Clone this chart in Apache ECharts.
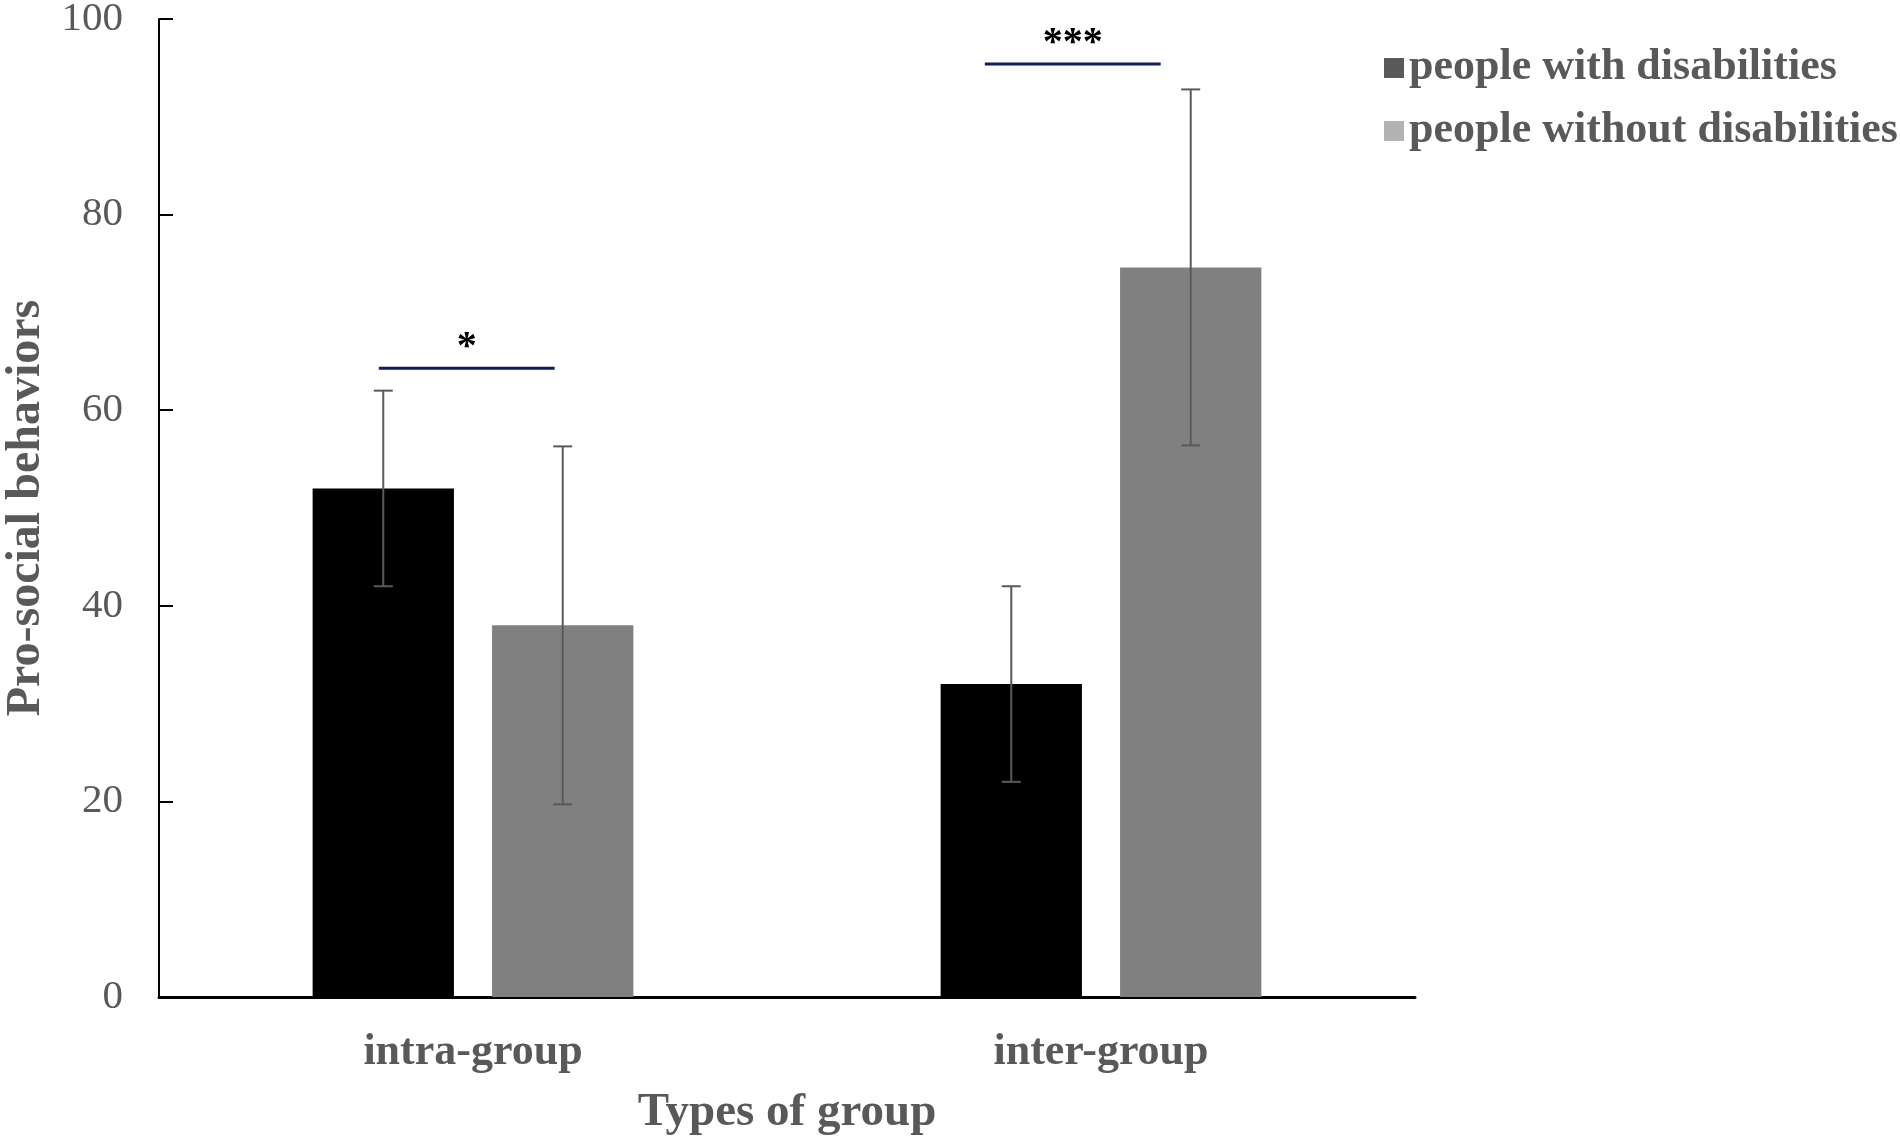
<!DOCTYPE html>
<html>
<head>
<meta charset="utf-8">
<script src="https://cdn.jsdelivr.net/npm/echarts@6/dist/echarts.min.js"></script>
<style>
html,body{margin:0;padding:0;background:#fff;}
#chart{width:1900px;height:1143px;}
</style>
</head>
<body>
<div id="chart"></div>
<script>
// ---- data ----
var categories = ['intra-group', 'inter-group'];
var seriesNames = ['people with disabilities', 'people without disabilities'];
var withMeans = [52, 32];
var withErr = [10, 10];
var withoutMeans = [38, 74.6];
var withoutErr = [18.3, 18.2];
var yTicks = [0, 20, 40, 60, 80, 100];
// significance brackets (x in category units on a 0..2 scale)
var sigStart = [0.35, 1.315];
var sigEnd = [0.63, 1.595];
var sigLevel = [64.3, 95.4];
var sigText = ['*', '***'];

var FONT = '"Liberation Serif", "Times New Roman", serif';
var BAR_W = 0.225, BAR_GAP = 0.27;

function errData(means, errs) {
  return means.map(function (m, i) { return [i, m, errs[i]]; });
}
function makeErrRender(sign) {
  return function (params, api) {
    var cat = api.value(0), mean = api.value(1), err = api.value(2);
    var band = api.size([1, 0])[0];
    var bw = band * BAR_W, gap = bw * BAR_GAP;
    var off = sign * (bw + gap) / 2;
    var top = api.coord([cat, mean + err]);
    var bot = api.coord([cat, mean - err]);
    var x = top[0] + off, hw = 9.5;
    var st = { stroke: '#595959', lineWidth: 2 };
    return {
      type: 'group',
      children: [
        { type: 'line', shape: { x1: x, y1: top[1], x2: x, y2: bot[1] }, style: st },
        { type: 'line', shape: { x1: x - hw, y1: top[1], x2: x + hw, y2: top[1] }, style: st },
        { type: 'line', shape: { x1: x - hw, y1: bot[1], x2: x + hw, y2: bot[1] }, style: st }
      ]
    };
  };
}

var chart = echarts.init(document.getElementById('chart'));
chart.setOption({
  animation: false,
  backgroundColor: '#fff',
  textStyle: { fontFamily: FONT },
  grid: { left: 159, right: 485, top: 19, bottom: 146, containLabel: false, outerBoundsMode: 'none' },
  legend: {
    orient: 'vertical',
    left: 1379,
    top: 41,
    itemWidth: 20,
    itemHeight: 20,
    itemGap: 19,
    icon: 'rect',
    selectedMode: false,
    textStyle: { fontFamily: FONT, fontSize: 44, fontWeight: 'bold', color: '#595959', lineHeight: 44 },
    data: [
      { name: seriesNames[0], itemStyle: { color: '#595959' } },
      { name: seriesNames[1], itemStyle: { color: '#b3b3b3' } }
    ]
  },
  xAxis: [{
    type: 'category',
    data: categories,
    name: 'Types of group',
    nameLocation: 'middle',
    nameGap: 92,
    nameTextStyle: { fontFamily: FONT, fontSize: 47, fontWeight: 'bold', color: '#595959' },
    axisLine: { lineStyle: { color: '#000', width: 3 } },
    axisTick: { show: false },
    axisLabel: { margin: 34, fontFamily: FONT, fontSize: 44, fontWeight: 'bold', color: '#595959' },
    splitLine: { show: false }
  }, {
    type: 'value',
    min: 0, max: 2,
    show: false
  }],
  yAxis: {
    type: 'value',
    min: yTicks[0],
    max: yTicks[yTicks.length - 1],
    interval: yTicks[1] - yTicks[0],
    name: 'Pro-social behaviors',
    nameLocation: 'middle',
    nameRotate: 90,
    nameGap: 108,
    nameTextStyle: { fontFamily: FONT, fontSize: 48, fontWeight: 'bold', color: '#595959' },
    axisLine: { show: true, lineStyle: { color: '#000', width: 2 } },
    axisTick: { show: true, inside: true, length: 14, lineStyle: { color: '#000', width: 2 } },
    axisLabel: { margin: 36, fontFamily: FONT, fontSize: 41, color: '#595959' },
    splitLine: { show: false }
  },
  series: [
    {
      name: seriesNames[0], type: 'bar', data: withMeans,
      barWidth: (BAR_W * 100) + '%', barGap: (BAR_GAP * 100) + '%',
      itemStyle: { color: '#000000' }
    },
    {
      name: seriesNames[1], type: 'bar', data: withoutMeans,
      barWidth: (BAR_W * 100) + '%', barGap: (BAR_GAP * 100) + '%',
      itemStyle: { color: '#808080' }
    },
    {
      type: 'custom', z: 10, data: errData(withMeans, withErr),
      encode: { x: 0, y: 1 }, renderItem: makeErrRender(-1), silent: true
    },
    {
      type: 'custom', z: 10, data: errData(withoutMeans, withoutErr),
      encode: { x: 0, y: 1 }, renderItem: makeErrRender(1), silent: true
    },
    {
      type: 'custom', z: 10, xAxisIndex: 1, silent: true,
      data: sigStart.map(function (s, i) { return [s, sigEnd[i], sigLevel[i]]; }),
      encode: { x: [0, 1], y: 2 },
      renderItem: function (params, api) {
        var a = api.coord([api.value(0), api.value(2)]);
        var b = api.coord([api.value(1), api.value(2)]);
        return {
          type: 'group',
          children: [
            { type: 'line', shape: { x1: a[0], y1: a[1], x2: b[0], y2: b[1] },
              style: { stroke: '#0f1f55', lineWidth: 3 } },
            { type: 'text', x: (a[0] + b[0]) / 2, y: a[1] - 20,
              style: { text: sigText[params.dataIndex], fontFamily: FONT, fontSize: 40, fontWeight: 'bold',
                       fill: '#000', align: 'center', verticalAlign: 'middle' } }
          ]
        };
      }
    }
  ]
});
</script>
</body>
</html>
